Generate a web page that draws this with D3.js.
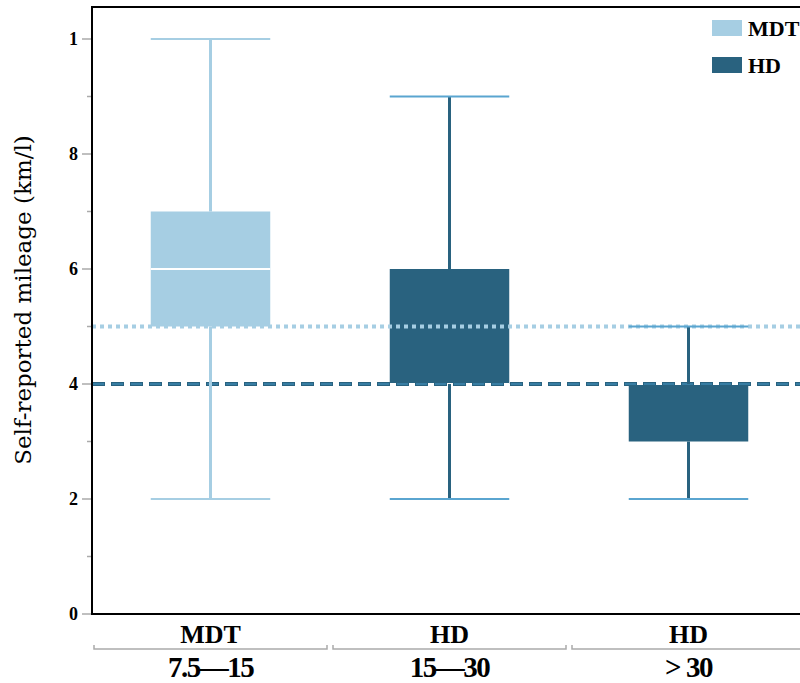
<!DOCTYPE html>
<html>
<head>
<meta charset="utf-8">
<script src="https://cdn.jsdelivr.net/npm/d3@7"></script>
<style>
  body { margin: 0; background: #fff; }
  text { font-family: "Liberation Serif", "DejaVu Serif", serif; }
  .lab { font-family: "DejaVu Serif", serif; }
</style>
</head>
<body>
<svg id="chart" width="800" height="683"></svg>
<script>
// groups along the x axis
const groups = ["MDT 7.5-15", "HD 15-30", "HD >30"]
const typeLabels = ["MDT", "HD", "HD"]
const rangeLabels = ["7.5\u201415", "15\u201430", "> 30"]
const boxType = ["MDT", "HD", "HD"]
// box stats
const whiskerLow = [2, 2, 2]
const q1 = [5, 4, 3]
const median = [6, 4, 4]
const q3 = [7, 6, 4]
const whiskerHigh = [10, 9, 5]
// reference lines
const refValues = [5, 4]
const refType = ["MDT", "HD"]
const yTicks = [0, 2, 4, 6, 8, 10]
const yTickLabels = ["0", "2", "4", "6", "8", "1"]
const yMinorTicks = [1, 3, 5, 7, 9]

const colors = { MDT: "#a6cee3", HD: "#29627f" }
const capColor = { MDT: "#a6cee3", HD: "#5aa5d0" }

const svg = d3.select("#chart")
const margin = { top: 7, left: 92, bottom: 614 }

const y = d3.scaleLinear().domain([0, 10]).range([614, 39])
const x = d3.scaleBand()
    .domain(groups)
    .range([91, 808])
    .paddingInner(0.5)
    .paddingOuter(0.25)

const data = groups.map((g, i) => ({
    g: g, type: boxType[i], lo: whiskerLow[i], q1: q1[i], med: median[i], q3: q3[i], hi: whiskerHigh[i]
}))

// boxes
svg.selectAll(".box")
    .data(data)
    .enter()
    .append("rect")
    .attr("class", "box")
    .attr("x", d => x(d.g))
    .attr("y", d => y(d.q3))
    .attr("width", x.bandwidth())
    .attr("height", d => y(d.q1) - y(d.q3))
    .style("fill", d => colors[d.type])

svg.selectAll(".median")
    .data(data)
    .enter()
    .append("line")
    .attr("x1", d => x(d.g))
    .attr("x2", d => x(d.g) + x.bandwidth())
    .attr("y1", d => y(d.med))
    .attr("y2", d => y(d.med))
    .style("stroke", "#fff")
    .style("stroke-width", 2)

// reference lines
refValues.forEach((v, i) => {
    if (refType[i] === "MDT") {
        svg.append("line")
            .attr("x1", margin.left).attr("x2", 810)
            .attr("y1", y(v)).attr("y2", y(v))
            .style("stroke", colors.MDT)
            .style("stroke-width", 4)
            .style("stroke-dasharray", "4,4")
    } else {
        svg.append("line")
            .attr("x1", margin.left).attr("x2", 810)
            .attr("y1", y(v)).attr("y2", y(v))
            .style("stroke", colors.HD)
            .style("stroke-width", 4)
            .style("stroke-dasharray", "13,6")
        svg.append("line")
            .attr("x1", margin.left + 1).attr("x2", 810)
            .attr("y1", y(v)).attr("y2", y(v))
            .style("stroke", "#3d86b0")
            .style("stroke-width", 1.5)
            .style("stroke-dasharray", "11,8")
    }
})

// whiskers
const mid = d => x(d.g) + x.bandwidth() / 2
svg.selectAll(".whiskUp")
    .data(data)
    .enter()
    .append("line")
    .attr("x1", mid).attr("x2", mid)
    .attr("y1", d => y(d.q3)).attr("y2", d => y(d.hi))
    .style("stroke", d => colors[d.type])
    .style("stroke-width", 3)

svg.selectAll(".whiskDown")
    .data(data)
    .enter()
    .append("line")
    .attr("x1", mid).attr("x2", mid)
    .attr("y1", d => y(d.q1)).attr("y2", d => y(d.lo))
    .style("stroke", d => colors[d.type])
    .style("stroke-width", 3)

data.forEach(d => {
    [d.lo, d.hi].forEach(v => {
        svg.append("line")
            .attr("x1", x(d.g)).attr("x2", x(d.g) + x.bandwidth())
            .attr("y1", y(v)).attr("y2", y(v))
            .style("stroke", capColor[d.type])
            .style("stroke-width", 2)
    })
})

// frame
svg.append("path")
    .attr("d", `M810,${margin.top}H${margin.left}V${margin.bottom}H810`)
    .style("fill", "none")
    .style("stroke", "#000")
    .style("stroke-width", 2)

// y axis ticks
svg.selectAll(".ytick")
    .data(yTicks)
    .enter()
    .append("line")
    .attr("x1", 82).attr("x2", 91)
    .attr("y1", d => y(d)).attr("y2", d => y(d))
    .style("stroke", "#aaa")
    .style("stroke-width", 1.5)

svg.selectAll(".yminor")
    .data(yMinorTicks)
    .enter()
    .append("line")
    .attr("x1", 87).attr("x2", 91)
    .attr("y1", d => y(d)).attr("y2", d => y(d))
    .style("stroke", "#aaa")
    .style("stroke-width", 1.5)

svg.selectAll(".ylabel")
    .data(yTicks)
    .enter()
    .append("text")
    .attr("x", 78)
    .attr("y", d => y(d))
    .attr("dy", "0.34em")
    .attr("text-anchor", "end")
    .style("font-size", "18px")
    .style("font-weight", "bold")
    .text((d, i) => yTickLabels[i])

svg.append("text")
    .attr("class", "lab")
    .attr("transform", "translate(31,300)rotate(-90)")
    .attr("text-anchor", "middle")
    .style("font-size", "23px")
    .text("Self-reported mileage (km/l)")

// x axis labels
svg.selectAll(".xtype")
    .data(groups)
    .enter()
    .append("text")
    .attr("x", d => x(d) + x.bandwidth() / 2)
    .attr("y", 643)
    .attr("text-anchor", "middle")
    .style("font-size", "26px")
    .style("font-weight", "bold")
    .text((d, i) => typeLabels[i])

svg.selectAll(".xrange")
    .data(groups)
    .enter()
    .append("text")
    .attr("x", d => x(d) + x.bandwidth() / 2)
    .attr("y", 677)
    .attr("text-anchor", "middle")
    .style("font-size", "29px")
    .style("font-weight", "bold")
    .style("letter-spacing", "-1.5px")
    .text((d, i) => rangeLabels[i])

svg.selectAll(".bracket")
    .data(groups)
    .enter()
    .append("path")
    .attr("d", d => {
        const x0 = x(d) + x.bandwidth() / 2 - x.step() / 2 + 3
        const x1 = x(d) + x.bandwidth() / 2 + x.step() / 2 - 3
        return `M${x0},645V649H${x1}V645`
    })
    .style("fill", "none")
    .style("stroke", "#aaa")
    .style("stroke-width", 1.5)

// legend
const legendTypes = ["MDT", "HD"]
const legend = svg.selectAll(".legend")
    .data(legendTypes)
    .enter()
    .append("g")
    .attr("transform", (d, i) => "translate(712," + (20 + i * 37) + ")")
legend.append("rect")
    .attr("width", 30).attr("height", 16)
    .style("fill", d => colors[d])
legend.append("text")
    .attr("x", 36).attr("y", 16)
    .style("font-size", "22px")
    .style("font-weight", "bold")
    .text(d => d)
</script>
</body>
</html>
